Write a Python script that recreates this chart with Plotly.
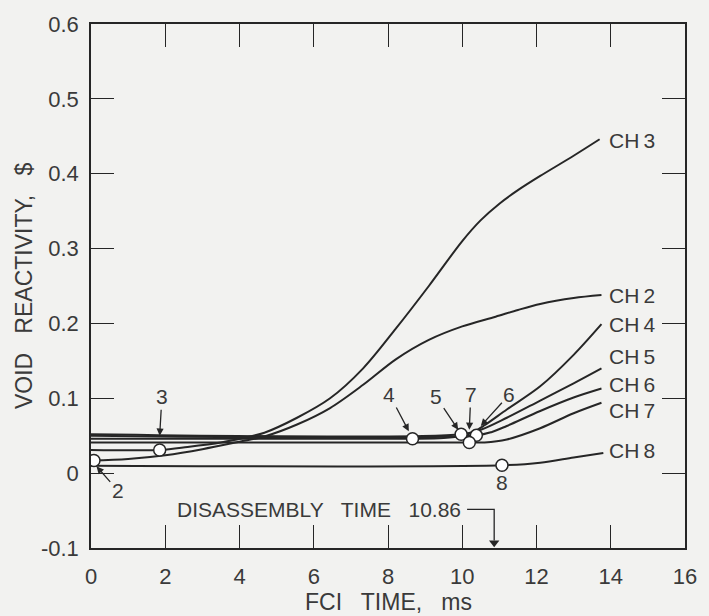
import plotly.graph_objects as go

# ---- data ----
ch2_x = [0, 1, 2, 3, 4, 4.67, 5.55, 6.44, 7.33, 8.21, 9.1, 10.0, 10.9, 11.5, 12.1, 13.0, 13.75]
ch2_y = [0.017, 0.019, 0.024, 0.032, 0.042, 0.049, 0.065, 0.087, 0.118, 0.152, 0.178, 0.196, 0.209, 0.218, 0.226, 0.234, 0.238]

ch3_x = [0, 1.85, 2.6, 3.5, 4.1, 4.67, 5.55, 6.44, 7.33, 8.21, 9.1, 10.0, 10.5, 11.0, 11.5, 12.1, 13.0, 13.7]
ch3_y = [0.031, 0.031, 0.035, 0.041, 0.047, 0.054, 0.074, 0.100, 0.140, 0.193, 0.250, 0.310, 0.338, 0.360, 0.378, 0.397, 0.424, 0.446]

ch4_x = [0, 8.66, 9.5, 10.0, 10.3, 10.6, 11.2, 12.1, 13.0, 13.75]
ch4_y = [0.046, 0.046, 0.047, 0.050, 0.055, 0.064, 0.085, 0.116, 0.158, 0.199]

ch5_x = [0, 9.97, 10.5, 11.2, 12.1, 13.0, 13.75]
ch5_y = [0.052, 0.052, 0.058, 0.074, 0.097, 0.120, 0.140]

ch6_x = [0, 10.38, 10.8, 11.2, 12.1, 13.0, 13.75]
ch6_y = [0.050, 0.0505, 0.055, 0.063, 0.083, 0.101, 0.113]

ch7_x = [0, 10.19, 10.6, 11.2, 12.1, 13.0, 13.75]
ch7_y = [0.041, 0.041, 0.041, 0.045, 0.060, 0.080, 0.094]

ch8_x = [0, 11.07, 12.1, 13.0, 13.8]
ch8_y = [0.0098, 0.0105, 0.014, 0.021, 0.027]

# open-circle markers (onset points)
mark_x = [0.08, 1.85, 8.66, 9.97, 10.38, 10.19, 11.07]
mark_y = [0.017, 0.031, 0.046, 0.052, 0.0505, 0.041, 0.0105]

series_names = ["CH3", "CH2", "CH4", "CH5", "CH6", "CH7", "CH8"]
label_y = [0.445, 0.237, 0.198, 0.156, 0.118, 0.084, 0.030]

x_ticks = [0, 2, 4, 6, 8, 10, 12, 14, 16]
y_ticks = [-0.1, 0, 0.1, 0.2, 0.3, 0.4, 0.5, 0.6]
y_ticktext = ["-0.1", "0", "0.1", "0.2", "0.3", "0.4", "0.5", "0.6"]

disassembly_time = 10.86

# ---- style ----
INK = "#262626"
TXT = "#3a3a3a"
BG = "#f2f2f0"
FONT = "Liberation Sans"
NB = "\u00a0"

fig = go.Figure()
series = [(ch3_x, ch3_y), (ch2_x, ch2_y), (ch4_x, ch4_y), (ch5_x, ch5_y),
          (ch6_x, ch6_y), (ch7_x, ch7_y), (ch8_x, ch8_y)]
for (xs, ys), name in zip(series, series_names):
    fig.add_trace(go.Scatter(x=xs, y=ys, mode="lines", name=name,
                             line=dict(color=INK, width=2, shape="spline", smoothing=0.9),
                             showlegend=False, hoverinfo="skip"))

fig.add_trace(go.Scatter(x=mark_x, y=mark_y, mode="markers", showlegend=False,
                         marker=dict(symbol="circle", size=12, color="white",
                                     line=dict(color=INK, width=1.5)),
                         hoverinfo="skip"))

# disassembly-time arrowhead
fig.add_trace(go.Scatter(x=[disassembly_time], y=[-0.093], mode="markers", showlegend=False,
                         marker=dict(symbol="triangle-down", size=9, color=INK),
                         cliponaxis=False, hoverinfo="skip"))

annotations = []
for name, ly in zip(series_names, label_y):
    annotations.append(dict(x=13.9, y=ly, xref="x", yref="y", text=name.replace("CH", "CH\u2009"),
                            showarrow=False, xanchor="left", yanchor="middle",
                            font=dict(family=FONT, size=21, color=TXT)))

# numbered pointer labels: (text, label x, label y, tip x, tip y)
pointers = [("2", 0.72, -0.023, 0.15, 0.009),
            ("3", 1.91, 0.102, 1.85, 0.05),
            ("4", 8.04, 0.105, 8.56, 0.056),
            ("5", 9.30, 0.102, 9.89, 0.058),
            ("7", 10.23, 0.105, 10.19, 0.058),
            ("6", 11.27, 0.105, 10.5, 0.063)]
for t, lx, ly, tx, ty in pointers:
    annotations.append(dict(x=tx, y=ty, ax=lx, ay=ly, xref="x", yref="y", axref="x", ayref="y",
                            text=t, showarrow=True, arrowhead=2, arrowsize=1.1, arrowwidth=1.3,
                            arrowcolor=INK, font=dict(family=FONT, size=21, color=TXT)))
annotations.append(dict(x=11.07, y=-0.012, xref="x", yref="y", text="8", showarrow=False,
                        font=dict(family=FONT, size=21, color=TXT)))

# disassembly time
annotations.append(dict(x=6.15, y=-0.0484, xref="x", yref="y",
                        text=f"DISASSEMBLY{NB}{NB} TIME{NB}{NB} 10.86", showarrow=False,
                        font=dict(family=FONT, size=21, color=TXT)))

# axis titles
annotations.append(dict(x=0.5, y=-0.075, xref="paper", yref="paper", yanchor="top",
                        text=f"FCI{NB}{NB} TIME,{NB}{NB} ms", showarrow=False,
                        font=dict(family=FONT, size=23, color=TXT)))
annotations.append(dict(x=-0.138, y=0.5, xref="paper", yref="paper", textangle=-90,
                        text=f"VOID{NB}{NB} REACTIVITY,{NB}{NB} $", showarrow=False,
                        font=dict(family=FONT, size=23, color=TXT)))

shapes = [dict(type="path", xref="x", yref="y",
               path=f"M 10.13,-0.0484 L {disassembly_time},-0.0484 L {disassembly_time},-0.09",
               line=dict(color=INK, width=1.3))]

axis_common = dict(showgrid=False, zeroline=False, showline=True, linecolor=INK, linewidth=1.5,
                   mirror="ticks", ticks="inside", ticklen=23, tickwidth=1.3, tickcolor=INK,
                   tickfont=dict(family=FONT, size=22, color=TXT))

fig.update_layout(
    width=709, height=616, paper_bgcolor=BG, plot_bgcolor=BG,
    margin=dict(l=91, r=16, t=19, b=68),
    xaxis=dict(range=[0, 16], tickvals=x_ticks, ticklabelstandoff=8, **axis_common),
    yaxis=dict(range=[-0.1, 0.6], tickvals=y_ticks, ticktext=y_ticktext,
               ticklabelstandoff=6, **axis_common),
    annotations=annotations, shapes=shapes,
)

fig.write_html("out.html")
